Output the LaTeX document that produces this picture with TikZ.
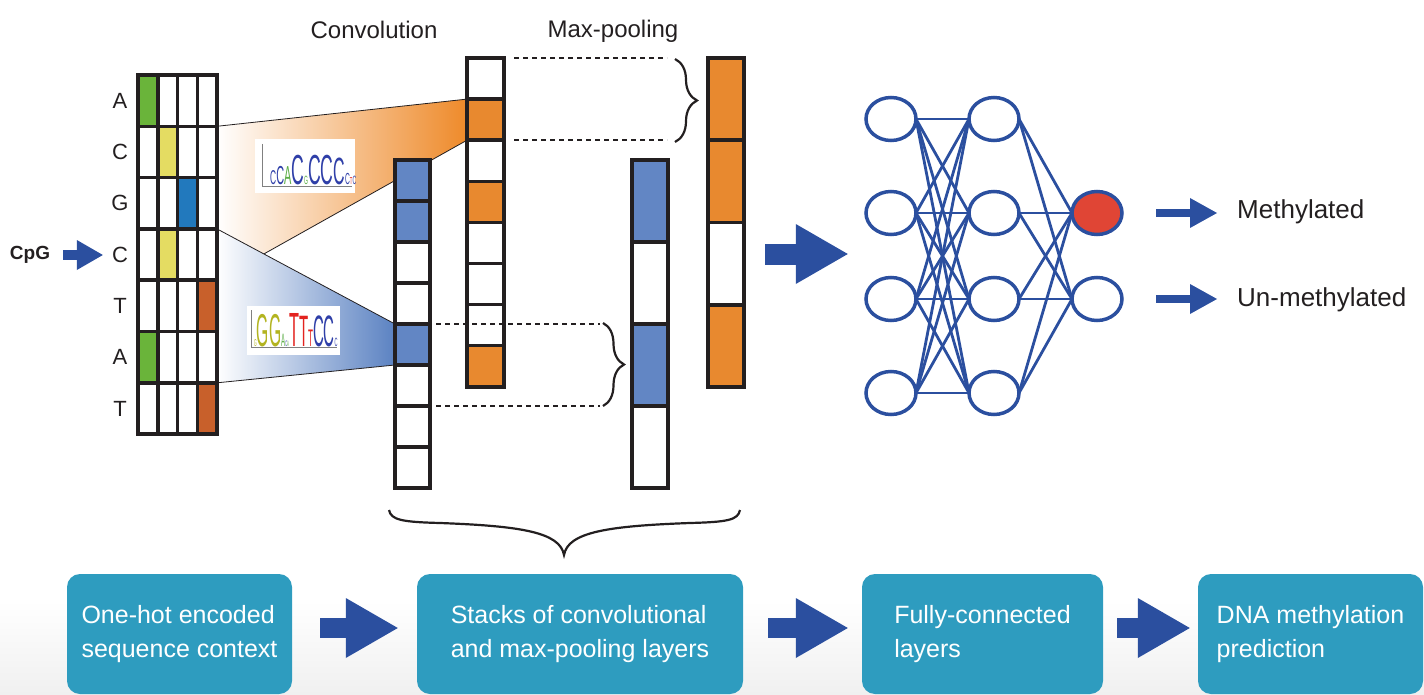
\documentclass[tikz,border=0pt]{standalone}
\usepackage{fontspec}
\setmainfont{Liberation Sans}
\usetikzlibrary{arrows.meta,positioning,shapes.geometric,fit,backgrounds,decorations.pathreplacing}
\definecolor{dmink}{HTML}{231F20}
\definecolor{dmnavy}{HTML}{2B4F9F}
\definecolor{dmconvblue}{HTML}{6286C4}
\definecolor{dmconvorange}{HTML}{E8892F}
\definecolor{dmfanorange}{HTML}{EE8A2A}
\definecolor{dmfanblue}{HTML}{5B82C2}
\definecolor{dmgreen}{HTML}{6AB43A}
\definecolor{dmyellow}{HTML}{E4DC62}
\definecolor{dmgblue}{HTML}{2279BD}
\definecolor{dmrust}{HTML}{C8602B}
\definecolor{dmred}{HTML}{E04535}
\definecolor{dmteal}{HTML}{2E9CBF}
\definecolor{dmfog}{HTML}{F0F0F0}
\definecolor{lgc}{HTML}{2F3FA8}
\definecolor{lgg}{HTML}{B3B420}
\definecolor{lga}{HTML}{5DAE48}
\definecolor{lgt}{HTML}{E3231F}
\newcommand{\logoch}[3]{{\fontsize{#1}{#1}\selectfont\color{#2}#3}}
\tikzstyle{dmcell}=[draw=dmink,line width=3.5pt,inner sep=0pt,outer sep=0pt]
\tikzstyle{dmletter}=[font=\fontsize{22}{22}\selectfont,text=dmink,inner sep=0pt]
\tikzstyle{dmlabel}=[font=\fontsize{24}{24}\selectfont,text=dmink,inner sep=0pt]
\tikzstyle{dmout}=[font=\fontsize{26}{26}\selectfont,text=dmink,inner sep=0pt]
\tikzstyle{dmneuron}=[ellipse,draw=dmnavy,line width=3.5pt,fill=white,minimum width=50pt,
  minimum height=43pt,inner sep=0pt,outer sep=0pt]
\tikzstyle{dmlink}=[draw=dmnavy,line width=2.8pt]
\tikzstyle{dmfat}=[-{Triangle[length=52pt,width=60pt,line width=0pt]},draw=dmnavy,line width=20pt]
\tikzstyle{dmthin}=[-{Triangle[length=27pt,width=30pt,line width=0pt]},draw=dmnavy,line width=8pt]
\tikzstyle{dmcpgarrow}=[-{Triangle[length=26pt,width=30pt,line width=0pt]},draw=dmnavy,line width=10pt]
\tikzstyle{dmbox}=[fill=dmteal,rounded corners=13pt,minimum height=120pt,align=left,text=white,
  font=\fontsize{25}{34}\selectfont,inner sep=0pt]
\tikzstyle{dmdash}=[draw=dmink,line width=2pt,dash pattern=on 5pt off 4pt]
\tikzstyle{dmbrace}=[draw=dmink,line width=2.2pt]
\tikzstyle{dmlogo}=[fill=white,inner sep=0pt]

\begin{document}
\begin{tikzpicture}[x=1pt,y=-1pt]
    \useasboundingbox (0,0) rectangle (1424,695);

    % ---- one-hot input ----
    \foreach \rw/\lt/\k/\col in {1/A/1/dmgreen,2/C/2/dmyellow,3/G/3/dmgblue,4/C/2/dmyellow,5/T/4/dmrust,6/A/1/dmgreen,7/T/4/dmrust} {
      \node[dmletter] (l\rw) at (120,{75+51.3*(\rw-0.5)}) {\lt};
      \foreach \cc in {1,...,4} {
        \ifnum\cc=\k \def\fc{\col}\else\def\fc{white}\fi
        \node[dmcell,fill=\fc,minimum width=19.75pt,minimum height=51.3pt] (m\rw\cc)
          at ({138+19.75*(\cc-0.5)},{75+51.3*(\rw-0.5)}) {};
      }
    }
    \node[font=\fontsize{19}{19}\selectfont\bfseries,text=dmink,inner sep=0pt] (cpg) at (30,255) {CpG};
    \draw[dmcpgarrow,shorten <=13pt,shorten >=9pt] (cpg.east) -- (cpg.east -| l4.west);

    % ---- convolution and max-pooling columns ----
    \node[dmlabel] (convlbl) at (374,30) {Convolution};
    \node[dmlabel] (poollbl) at (613,31) {Max-pooling};
    \foreach \i/\col in {1/dmconvblue,2/dmconvblue,3/white,4/white,5/dmconvblue,6/white,7/white,8/white}
      \node[dmcell,fill=\col,minimum width=35pt,minimum height=41pt] (ca\i) at (412.5,{160+41*(\i-0.5)}) {};
    \foreach \i/\col in {1/white,2/dmconvorange,3/white,4/dmconvorange,5/white,6/white,7/white,8/dmconvorange}
      \node[dmcell,fill=\col,minimum width=37pt,minimum height=41.1pt] (cb\i) at (485.5,{58+41.1*(\i-0.5)}) {};
    \foreach \i/\col in {1/dmconvblue,2/white,3/dmconvblue,4/white}
      \node[dmcell,fill=\col,minimum width=36pt,minimum height=82pt] (pa\i) at (650,{160+82*(\i-0.5)}) {};
    \foreach \i/\col in {1/dmconvorange,2/dmconvorange,3/white,4/dmconvorange}
      \node[dmcell,fill=\col,minimum width=36pt,minimum height=82.25pt] (pb\i) at (726,{58+82.25*(\i-0.5)}) {};

    % filters fanning out of the input
    \begin{scope}[on background layer]
      \shade[top color=white,bottom color=dmfog] (0,600) rectangle (1424,695);
      \shade[left color=white,right color=dmfanorange,draw=dmink,line width=0.8pt]
        (m24.north east) -- (cb2.north west) -- (cb2.south west) -- (m44.south east) -- cycle;
      \shade[left color=white,right color=dmfanblue,draw=dmink,line width=0.8pt]
        (m44.north east) -- (ca5.north west) -- (ca5.south west) -- (m64.south east) -- cycle;
    \end{scope}

    % motif logos
    \node[dmlogo,minimum width=100pt,minimum height=54pt] (logo1) at (305,166) {};
    \draw[gray,line width=0.6pt] (262,144) -- (262,186) -- (352,186);
    \node[anchor=base west,inner sep=0pt] (seq1) at (270,185) {\scalebox{0.42}[1]{%
      \logoch{20}{lgc}{C}\logoch{26}{lgc}{C}\logoch{26}{lga}{A}\logoch{42}{lgc}{C}\logoch{12}{lga}{G}%
      \logoch{42}{lgc}{C}\logoch{42}{lgc}{C}\logoch{38}{lgc}{C}\logoch{16}{lgc}{C}\logoch{10}{lgt}{T}\logoch{12}{lgc}{C}}};
    \node[dmlogo,minimum width=93pt,minimum height=49pt] (logo2) at (293.5,330.5) {};
    \draw[gray,line width=0.6pt] (251,310) -- (251,347) -- (337,347);
    \node[anchor=base west,inner sep=0pt] (seq2) at (254,346) {\scalebox{0.34}[1]{%
      \logoch{10}{lgg}{G}\logoch{46}{lgg}{G}\logoch{46}{lgg}{G}\logoch{18}{lga}{A}\logoch{8}{lgc}{C}\logoch{8}{lga}{A}%
      \logoch{48}{lgt}{T}\logoch{44}{lgt}{T}\logoch{24}{lgt}{T}\logoch{44}{lgc}{C}\logoch{44}{lgc}{C}\logoch{12}{lgc}{C}}};

    % pooling windows
    \draw[dmdash] ([xshift=10pt]cb1.north east) -- +(153,0);
    \draw[dmdash] ([xshift=10pt]cb2.south east) -- +(153,0);
    \draw[dmbrace,decorate,decoration={brace,amplitude=22pt}] (675,59) -- (675,142);
    \draw[dmdash] ([xshift=6pt]ca5.north east) -- +(164,0);
    \draw[dmdash] ([xshift=6pt]ca6.south east) -- +(164,0);
    \draw[dmbrace,decorate,decoration={brace,amplitude=21pt}] (603,323) -- (603,406);
    \draw[dmbrace] (389,510) .. controls (391,520) and (402,522) .. (440,523)
      .. controls (520,526) and (560,532) .. (564,555)
      .. controls (568,532) and (608,526) .. (690,523)
      .. controls (728,522) and (738,520) .. (740,510);

    % ---- fully-connected network ----
    \foreach \i/\y in {1/119,2/213,3/299,4/393} {
      \node[dmneuron] (a\i) at (891,\y) {};
      \node[dmneuron] (b\i) at (994,\y) {};
    }
    \node[dmneuron,fill=dmred] (o1) at (1097,213) {};
    \node[dmneuron] (o2) at (1097,299) {};
    \foreach \i in {1,...,4} {
      \foreach \j in {1,...,4} {\draw[dmlink] (a\i.east) -- (b\j.west);}
      \foreach \j in {1,2} {\draw[dmlink] (b\i.east) -- (o\j.west);}
    }
    \node[fit=(a1)(a4)(o2),inner sep=0pt] (net) {};
    \coordinate (fcin) at (765,254);
    \draw[dmfat,line width=21pt,shorten >=18pt] (fcin) -- (fcin -| net.west);

    \node[dmout,anchor=west] (meth) at (1237,212) {Methylated};
    \node[dmout,anchor=west] (unmeth) at (1237,300) {Un-methylated};
    \draw[dmthin,shorten <=34pt,shorten >=20pt] (o1.east) -- (o1.east -| meth.west);
    \draw[dmthin,shorten <=34pt,shorten >=20pt] (o2.east) -- (o2.east -| unmeth.west);

    % ---- pipeline ----
    \node[dmbox,minimum width=225pt] (b1) at (179.5,634) {One-hot encoded\\sequence context};
    \node[dmbox,minimum width=326pt] (b2) at (580,634) {Stacks of convolutional\\and max-pooling layers};
    \node[dmbox,minimum width=241pt] (b3) at (982.5,634) {Fully-connected\\layers};
    \node[dmbox,minimum width=225pt] (b4) at (1310.5,634) {DNA methylation\\prediction};
    \draw[dmfat,shorten <=28pt,shorten >=19pt] ([yshift=6pt]b1.east) -- ([yshift=6pt]b2.west);
    \draw[dmfat,shorten <=25pt,shorten >=14pt] ([yshift=6pt]b2.east) -- ([yshift=6pt]b3.west);
    \draw[dmfat,shorten <=14pt,shorten >=8pt] ([yshift=6pt]b3.east) -- ([yshift=6pt]b4.west);
  \end{tikzpicture}
\end{document}
